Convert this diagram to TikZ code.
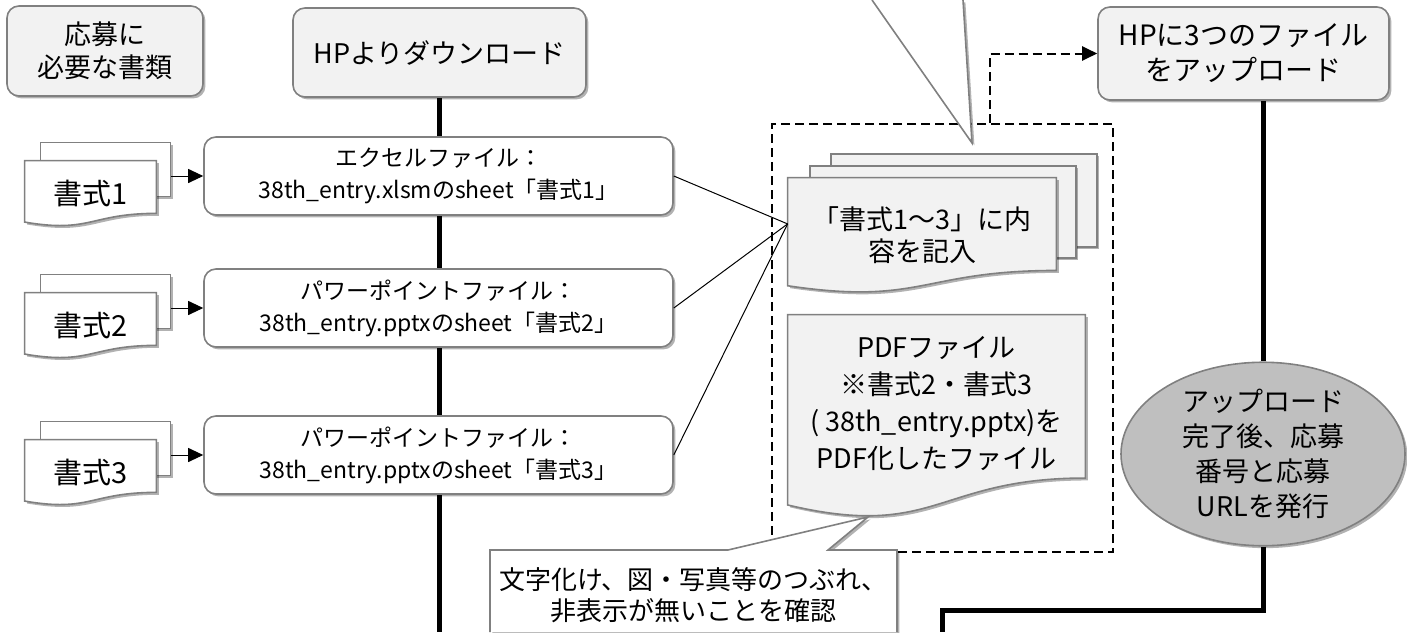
\documentclass[tikz,border=0pt]{standalone}
\usepackage{fontspec}
\setmainfont{Noto Sans CJK JP}
\usetikzlibrary{calc, arrows.meta, positioning, shapes.geometric, shadows, backgrounds}

\definecolor{boxgray}{HTML}{F2F2F2}
\definecolor{edgegray}{HTML}{808080}
\definecolor{ovalgray}{HTML}{BFBFBF}

% 書類の形(下辺が波)
\newcommand{\docoutline}[2][]{%
  \draw[#1] (#2.north west) -- (#2.north east)
    -- ($(#2.north east)!0.802!(#2.south east)$)
    .. controls ($(#2.north)!0.802!(#2.south)$) and ($(#2.north)!1.107!(#2.south)$)
    .. ($(#2.north west)!0.934!(#2.south west)$) -- cycle;}

\begin{document}
\begin{tikzpicture}[x=0.5pt, y=-0.5pt, align=center, >={Triangle[length=7.5pt,width=7pt]}]
\useasboundingbox (0,0) rectangle (1407,632);

\tikzstyle{soft shadow}=[drop shadow={shadow xshift=1.2pt, shadow yshift=-1.2pt, opacity=0.3, fill=black}]
\tikzstyle{head node}=[rectangle, rounded corners=6pt, draw=edgegray, line width=0.8pt, fill=boxgray, inner sep=0pt, soft shadow, font=\fontsize{13.5}{16.5}\selectfont]
\tikzstyle{file node}=[rectangle, rounded corners=6pt, draw=edgegray, line width=0.8pt, fill=white, minimum width=234.5pt, minimum height=39pt, inner sep=0pt, soft shadow, font=\fontsize{11.5}{16}\selectfont]
\tikzstyle{doc node}=[rectangle, inner sep=0pt, font=\fontsize{13.5}{16.5}\selectfont]
\tikzstyle{back page}=[rectangle, draw=edgegray, line width=0.8pt, inner sep=0pt, soft shadow]
\tikzstyle{paper}=[draw=edgegray, line width=0.8pt, soft shadow]
\tikzstyle{oval node}=[ellipse, draw=edgegray, line width=0.8pt, fill=ovalgray, minimum width=142pt, minimum height=89pt, inner sep=0pt, soft shadow, font=\fontsize{13.5}{17.5}\selectfont]
\tikzstyle{group box}=[rectangle, draw, dash pattern=on 4.5pt off 2.5pt, line width=1pt, minimum width=170.5pt, minimum height=214pt, inner sep=0pt]
\tikzstyle{callout line}=[draw=edgegray, line width=0.8pt, fill=white, soft shadow]
\tikzstyle{thick line}=[line width=2.5pt]
\tikzstyle{thin line}=[line width=0.5pt]
\tikzstyle{dashed line}=[line width=1pt, dash pattern=on 4.5pt off 2.5pt]

% 見出し
\node[head node, minimum width=98pt, minimum height=45pt] (need) at (105,51) {応募に\\必要な書類};
\node[head node, minimum width=146.5pt, minimum height=44.5pt] (hp) at (439.5,52.5) {HPよりダウンロード};
\node[head node, minimum width=145.5pt, minimum height=46.5pt, font=\fontsize{14}{17.5}\selectfont] (up) at (1243.5,53.5) {HPに3つのファイル\\をアップロード};

% ファイル
\node[file node] (b1) at (438.5,176) {エクセルファイル：\\38th\_entry.xlsmのsheet「書式1」};
\node[file node] (b2) at (438.5,308) {パワーポイントファイル：\\38th\_entry.pptxのsheet「書式2」};
\node[file node] (b3) at (438.5,455) {パワーポイントファイル：\\38th\_entry.pptxのsheet「書式3」};

% 書式1〜3
\foreach \i/\y in {1/193.5, 2/325.5, 3/472.5}
    \node[doc node, minimum width=65.5pt, minimum height=32.5pt, font=\fontsize{14.5}{16.5}\selectfont] (f\i) at (90.5,\y) {書式\i};

% 記入・PDF化
\node[group box] (grp) at (942.5,338) {};
\node[doc node, minimum width=134pt, minimum height=57.5pt, font=\fontsize{13.5}{16}\selectfont] (s) at (922,235.5) {「書式1～3」に内\\容を記入};
\node[doc node, minimum width=148.5pt, minimum height=101.5pt] (pdf) at (936.5,416.5) {};
\node[doc node, font=\fontsize{13.5}{18.5}\selectfont] (pdftext) at ($(pdf)+(0,-13)$) {PDFファイル\\※書式2・書式3\\( 38th\_entry.pptx)を\\PDF化したファイル};
\coordinate (sin) at ($(s.north west)!0.4!(s.south west)$);

% 発行
\node[oval node] (el) at (1263,454) {アップロード\\完了後、応募\\番号と応募\\URLを発行};

\coordinate (endL) at (439.5,632);
\coordinate (turn) at (942,610);
\coordinate (endR) at (942,632);

\begin{scope}[on background layer]
    \draw[thick line] (hp.south) -- (endL);
    \draw[thick line] (up.south -| el.north) -- (el.north);
    \draw[thick line] (el.south) |- (turn) -- (endR);
    \foreach \i in {1,2,3} {
        \node[back page, fill=white, minimum width=65pt, minimum height=27pt] (k\i) at ($(f\i.north west)+(81,9)$) {};
        \docoutline[paper, fill=white]{f\i}
    }
    \node[back page, fill=boxgray, minimum width=133pt, minimum height=46.5pt] (s3) at ($(s)+(42,-35)$) {};
    \node[back page, fill=boxgray, minimum width=133pt, minimum height=46pt] (s2) at ($(s)+(21,-23.5)$) {};
    \docoutline[paper, fill=boxgray]{s}
    \docoutline[paper, fill=boxgray]{pdf}
\end{scope}

% 書式 -> ファイル
\foreach \i in {1,2,3}
    \draw[thin line, ->] (k\i.east |- b\i.west) -- (b\i.west);

% ファイル -> 記入
\foreach \i in {1,2,3}
    \draw[thin line] (b\i.east) -- (sin);

% 記入 -> アップロード
\draw[dashed line, ->] ($(grp.north)+(47.5,0)$) |- (up.west);

% 吹き出し
\path[callout line] (872,0) -- (972,143) -- (963,0);
\draw[callout line] (490,632) -- (490,550) -- (728,550) -- (868,517) -- (828,550) -- (897,550) -- (897,632);
\node[doc node, font=\fontsize{13}{15.5}\selectfont] (chk) at (693.5,595) {文字化け、図・写真等のつぶれ、\\非表示が無いことを確認};

\end{tikzpicture}
\end{document}
